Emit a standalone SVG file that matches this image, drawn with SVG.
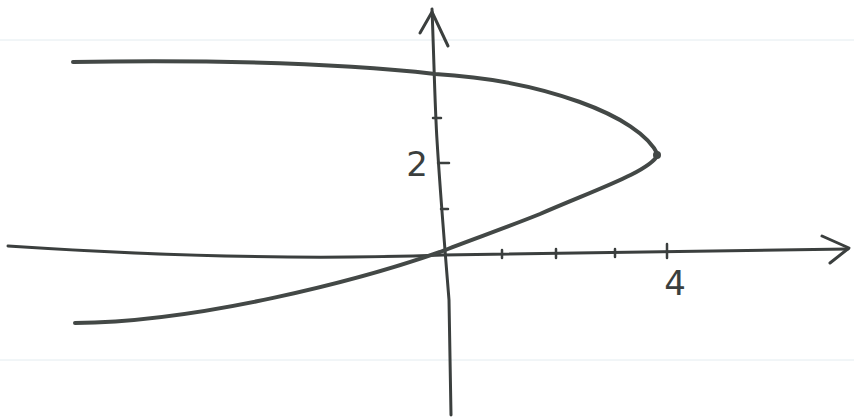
<svg xmlns="http://www.w3.org/2000/svg" width="854" height="420" viewBox="0 0 854 420">
<style>
.ax{fill:none;stroke:#3b3f3e;stroke-width:3;stroke-linecap:round;stroke-linejoin:round}
.tk{fill:none;stroke:#3b3f3e;stroke-width:2.5;stroke-linecap:round}
.cv{fill:none;stroke:#434846;stroke-width:4;stroke-linecap:round;stroke-linejoin:round}
.rule{stroke:#e3ecf0;stroke-width:1}
.lb{font-family:"DejaVu Sans",sans-serif;font-size:34px;fill:#3b3f3e}
</style>
<rect width="854" height="420" fill="#ffffff"/>
<g id="paper">
<line class="rule" x1="0" y1="40" x2="854" y2="40"/>
<line class="rule" x1="0" y1="360" x2="854" y2="360"/>
</g>
<g id="axes">
<path class="ax" d="M8,246 Q250,262 443,255 L848,249" stroke-width="2.5"/>
<path class="ax" d="M822,236 L849,248 L830,263" stroke-width="4"/>
<path class="ax" d="M432,9 C434,60 435,110 437,140 C440,190 445,250 449,300 L451,415" stroke-width="3.5"/>
<path class="ax" d="M420,33 L432,12 L448,46" stroke-width="4"/>
</g>
<g id="ticks">
<line class="tk" x1="502" y1="250" x2="502" y2="258"/>
<line class="tk" x1="556" y1="249" x2="556" y2="258"/>
<line class="tk" x1="615" y1="249" x2="615" y2="257"/>
<line class="tk" x1="667" y1="244" x2="667" y2="258"/>
<line class="tk" x1="441" y1="209" x2="448" y2="209"/>
<line class="tk" x1="438" y1="163" x2="449" y2="163"/>
<line class="tk" x1="433" y1="118" x2="441" y2="118"/>
</g>
<g id="curve">
<path class="cv" d="M73,62 C200,60 330,62 435,74 C540,80 640,115 658,155"/>
<path class="cv" d="M658,155 C648,172 600,188 540,214 C500,230 470,240 440,252 C360,280 200,322 75,323"/>
<circle cx="657" cy="155" r="4" fill="#434846"/>
</g>
<g id="labels">
<text class="lb" x="417" y="176" text-anchor="middle">2</text>
<text class="lb" x="675" y="295" text-anchor="middle">4</text>
</g>
</svg>
